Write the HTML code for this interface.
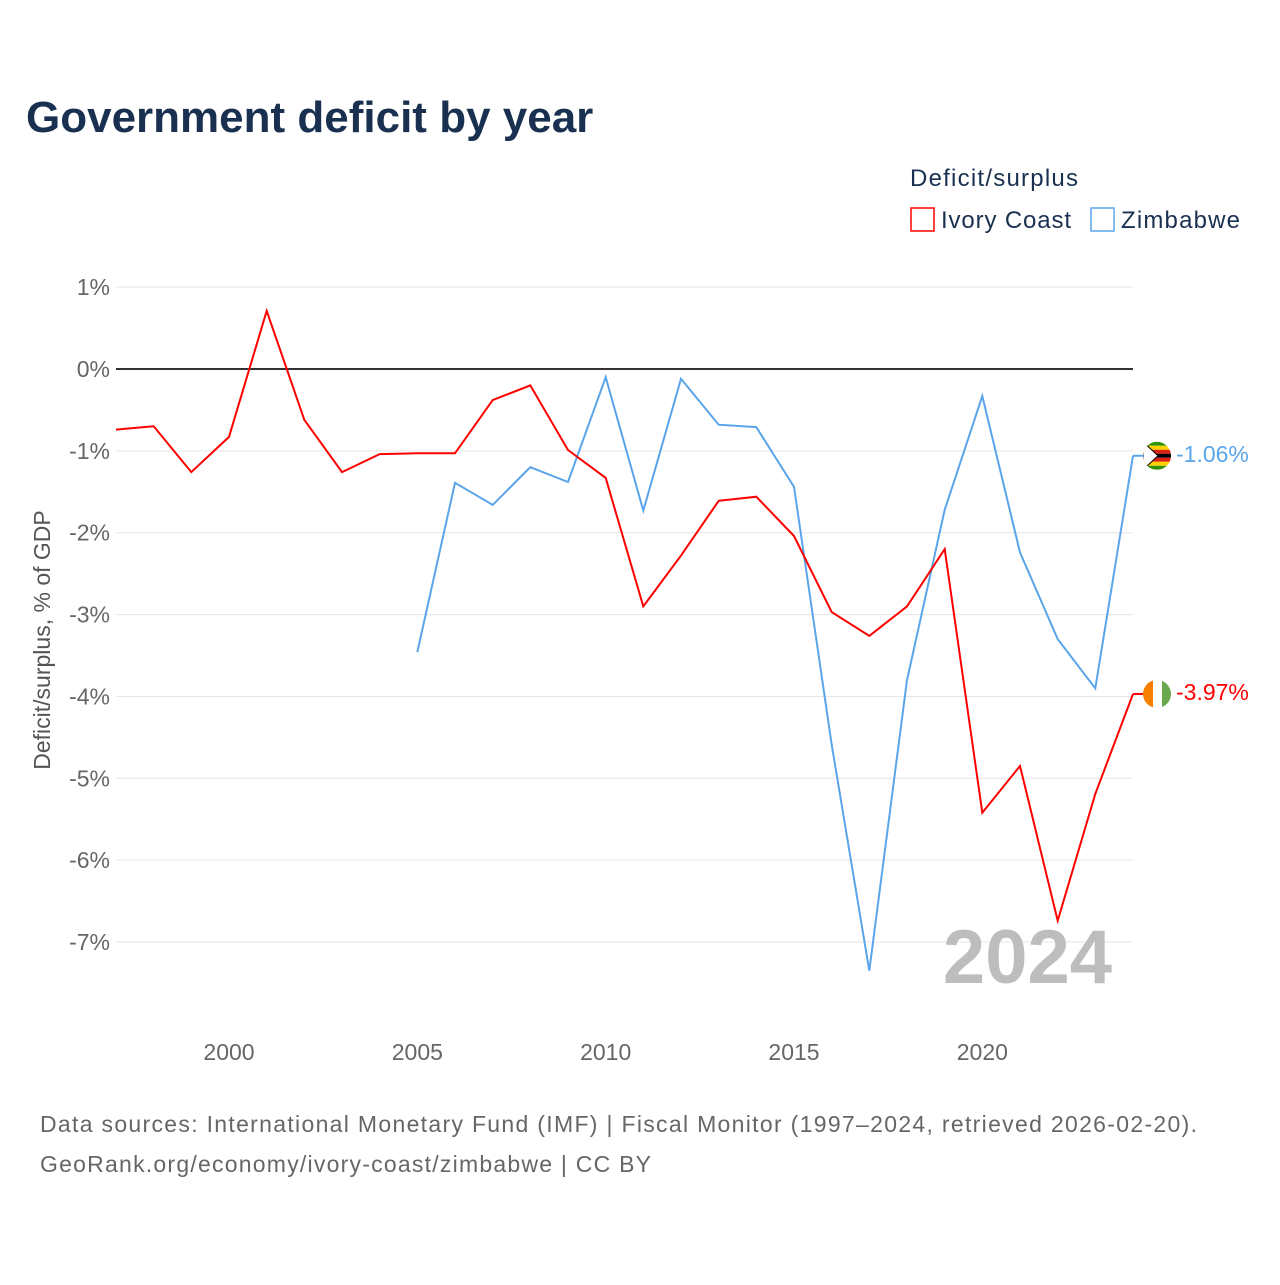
<!DOCTYPE html>
<html><head><meta charset="utf-8">
<style>
html,body{margin:0;padding:0;background:#fff;}
body{width:1280px;height:1280px;overflow:hidden;font-family:"Liberation Sans",sans-serif;}
svg text{font-family:"Liberation Sans",sans-serif;}
</style></head>
<body>
<svg id="chart" width="1280" height="1280" viewBox="0 0 1280 1280">
<text x="26" y="132" font-size="44" font-weight="bold" fill="#1a3050">Government deficit by year</text>
<text x="910" y="186" font-size="24" fill="#1a3050" textLength="168">Deficit/surplus</text>
<g>
<rect x="911" y="208" width="23" height="23" fill="none" stroke="#ff0000" stroke-width="1.5"/>
<text x="941" y="228" font-size="24" fill="#1a3050" textLength="130">Ivory Coast</text></g>
<g>
<rect x="1091" y="208" width="23" height="23" fill="none" stroke="#5aa5ea" stroke-width="1.5"/>
<text x="1121" y="228" font-size="24" fill="#1a3050" textLength="119">Zimbabwe</text></g>
<g id="grid"></g>
<g id="series"></g>
<text x="1112" y="983" font-size="76" font-weight="bold" fill="#bdbdbd" text-anchor="end">2024</text>
<text transform="translate(50,640) rotate(-90)" font-size="23" fill="#555" text-anchor="middle">Deficit/surplus, % of GDP</text>
<text x="40" y="1132" font-size="23" fill="#666" textLength="1157">Data sources: International Monetary Fund (IMF) | Fiscal Monitor (1997–2024, retrieved 2026-02-20).</text>
<text x="40" y="1172" font-size="23" fill="#666" textLength="611">GeoRank.org/economy/ivory-coast/zimbabwe | CC BY</text>
</svg>
<script>
const years=[1997,1998,1999,2000,2001,2002,2003,2004,2005,2006,2007,2008,2009,2010,2011,2012,2013,2014,2015,2016,2017,2018,2019,2020,2021,2022,2023,2024];
const ivoryCoast=[-0.74,-0.70,-1.26,-0.83,0.71,-0.62,-1.26,-1.04,-1.03,-1.03,-0.38,-0.20,-0.99,-1.33,-2.90,-2.28,-1.61,-1.56,-2.04,-2.97,-3.26,-2.90,-2.20,-5.42,-4.85,-6.74,-5.19,-3.97];
const zimbabwe=[null,null,null,null,null,null,null,null,-3.46,-1.39,-1.66,-1.20,-1.38,-0.10,-1.73,-0.12,-0.68,-0.71,-1.44,-4.59,-7.35,-3.80,-1.72,-0.33,-2.24,-3.30,-3.90,-1.06];
const yTicks=[1,0,-1,-2,-3,-4,-5,-6,-7];
const xTicks=[2000,2005,2010,2015,2020];
const NS='http://www.w3.org/2000/svg';
const x=v=>116+(v-1997)*(1133-116)/27;
const y=v=>369-v*81.86;
function mk(tag,attrs,parent){const e=document.createElementNS(NS,tag);for(const k in attrs)e.setAttribute(k,attrs[k]);parent.appendChild(e);return e;}
const grid=document.getElementById('grid'),series=document.getElementById('series');
yTicks.forEach(t=>{
 const l=mk('line',{x1:116,x2:1133,y1:y(t),y2:y(t),stroke:t===0?'#333':'#e6e6e6','stroke-width':t===0?2:1},grid);
 
 
 const tx=mk('text',{x:110,y:y(t)+8,'font-size':23,fill:'#666','text-anchor':'end'},grid);
 tx.textContent=t+'%';
 
 
});
xTicks.forEach(t=>{
 const tx=mk('text',{x:x(t),y:1060,'font-size':23,fill:'#666','text-anchor':'middle'},grid);
 tx.textContent=t;
 
 
});
function line(vals,color,name){
 let d='';vals.forEach((v,i)=>{if(v===null)return;d+=(d?'L':'M')+x(years[i]).toFixed(1)+','+y(v).toFixed(1);});
 const p=mk('path',{d:d,fill:'none',stroke:color,'stroke-width':2,'stroke-linejoin':'miter'},series);
 
 
}
line(zimbabwe,'#5aa5ea','zimbabwe-line');
line(ivoryCoast,'#ff0000','ivory-coast-line');
function endLabel(v,color,name,flag){
 const cx=x(2024)+24,cy=y(v);
 mk('line',{x1:x(2024),x2:cx-14,y1:cy,y2:cy,stroke:color,'stroke-width':2},series);
 const g=mk('g',{},series);
 
 
 const cp=mk('clipPath',{id:'c'+name},g);mk('circle',{cx:cx,cy:cy,r:14},cp);
 const gg=mk('g',{'clip-path':'url(#c'+name+')'},g);
 if(flag==='ci'){mk('rect',{x:cx-14,y:cy-14,width:10,height:28,fill:'#f77f00'},gg);mk('rect',{x:cx-4,y:cy-14,width:9,height:28,fill:'#fff'},gg);mk('rect',{x:cx+5,y:cy-14,width:10,height:28,fill:'#6aa84f'},gg);}
 else{const c=['#319208','#ffd200','#de2010','#000','#de2010','#ffd200','#319208'];c.forEach((f,i)=>mk('rect',{x:cx-14,y:cy-14+i*4,width:28,height:4,fill:f},gg));mk('polygon',{points:(cx-14)+','+(cy-14)+' '+(cx+1)+','+cy+' '+(cx-14)+','+(cy+14),fill:'#fff',stroke:'#000','stroke-width':1},gg);}
 const t=mk('text',{x:cx+19,y:cy+6,'font-size':23,fill:color},series);
 t.textContent=v.toFixed(2)+'%';
 
 
}
endLabel(zimbabwe[zimbabwe.length-1],'#5aa5ea','zimbabwe','zw');
endLabel(ivoryCoast[ivoryCoast.length-1],'#ff0000','ivory-coast','ci');
</script>
</body></html>
